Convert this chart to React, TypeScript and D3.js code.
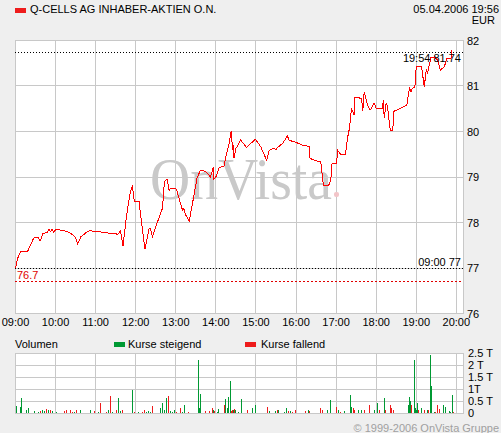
import React, { useEffect, useRef } from 'react';
import * as d3 from 'd3';

// price ticks (time, EUR)
const priceTimes = [
    "09:00", "09:03", "09:08", "09:18", "09:26", "09:28", "09:34", "09:37", "09:41", "09:48",
    "09:50", "09:52", "09:55", "09:57", "10:01", "10:08", "10:18", "10:26", "10:30", "10:33",
    "10:38", "10:46", "10:53", "10:56", "11:03", "11:23", "11:30", "11:33", "11:37", "11:41",
    "11:46", "11:52", "11:55", "11:58", "12:05", "12:10", "12:14", "12:20", "12:22", "12:25",
    "12:30", "12:40", "12:43", "12:47", "12:50", "12:52", "13:00", "13:02", "13:10", "13:12",
    "13:15", "13:20", "13:25", "13:32", "13:37", "13:45", "13:52", "13:56", "13:57", "14:00",
    "14:05", "14:12", "14:16", "14:20", "14:23", "14:25", "14:26", "14:27", "14:30", "14:32",
    "14:37", "14:46", "14:59", "15:07", "15:16", "15:20", "15:27", "15:30", "15:31", "15:40",
    "15:47", "15:50", "15:57", "16:10", "16:20", "16:21", "16:27", "16:37", "16:41", "16:49",
    "16:52", "16:54", "17:01", "17:02", "17:07", "17:14", "17:17", "17:20", "17:22", "17:23",
    "17:27", "17:28", "17:38", "17:40", "17:42", "17:47", "17:51", "17:57", "18:00", "18:09",
    "18:11", "18:12", "18:15", "18:17", "18:21", "18:25", "18:26", "18:46", "18:48", "18:50",
    "18:52", "18:54", "18:58", "19:00", "19:08", "19:12", "19:15", "19:17", "19:22", "19:27",
    "19:32", "19:36", "19:42", "19:46", "19:52", "19:53", "19:54"
];
const priceValues = [
    77.00, 77.21, 77.36, 77.36, 77.62, 77.67, 77.67, 77.60, 77.75, 77.79,
    77.86, 77.80, 77.85, 77.79, 77.85, 77.83, 77.80, 77.73, 77.66, 77.53,
    77.69, 77.78, 77.83, 77.80, 77.80, 77.76, 77.76, 77.73, 77.82, 77.48,
    78.13, 78.68, 78.79, 78.46, 78.46, 77.84, 77.41, 77.87, 77.87, 77.69,
    77.91, 78.31, 78.90, 78.95, 78.70, 78.75, 78.75, 78.68, 78.27, 78.30,
    78.16, 78.03, 78.42, 78.99, 79.15, 79.12, 79.00, 79.21, 78.95, 79.00,
    79.21, 79.23, 79.52, 79.74, 80.02, 79.59, 79.70, 79.41, 79.63, 79.67,
    79.81, 79.65, 79.83, 79.67, 79.37, 79.59, 79.63, 79.59, 79.63, 79.74,
    79.90, 79.80, 79.78, 79.70, 79.67, 79.41, 79.37, 79.33, 78.82, 78.82,
    78.93, 79.30, 79.30, 79.59, 79.50, 79.50, 79.85, 80.07, 80.36, 80.51,
    80.36, 80.75, 80.73, 80.46, 80.87, 80.58, 80.47, 80.62, 80.51, 80.51,
    80.69, 80.29, 80.63, 80.55, 80.03, 80.03, 80.44, 80.58, 80.80, 80.95,
    80.87, 80.95, 80.98, 81.42, 81.42, 80.98, 81.35, 81.29, 81.62, 81.64,
    81.57, 81.35, 81.42, 81.61, 81.61, 81.76, 81.74
];

// volume bars (time, T units as shown, direction u = steigend, d = fallend)
const volTimes = [
    "09:00", "09:06", "09:08", "09:16", "09:18", "09:27", "09:28", "09:33", "09:36", "09:40",
    "09:43", "09:46", "09:49", "09:51", "09:52", "09:55", "10:00", "10:13", "10:16", "10:22",
    "10:25", "10:28", "10:31", "10:37", "10:52", "10:58", "11:04", "11:06", "11:07", "11:16",
    "11:19", "11:22", "11:25", "11:30", "11:33", "11:36", "11:40", "11:54", "11:58", "12:04",
    "12:09", "12:12", "12:15", "12:19", "12:22", "12:24", "12:36", "12:37", "12:39", "12:40",
    "12:42", "12:43", "12:45", "12:46", "12:48", "12:49", "12:51", "12:54", "12:57", "12:58",
    "13:00", "13:06", "13:09", "13:12", "13:19", "13:33", "13:34", "13:36", "13:43", "13:49",
    "13:54", "13:55", "13:57", "14:01", "14:03", "14:12", "14:13", "14:16", "14:18", "14:21",
    "14:22", "14:24", "14:25", "14:27", "14:28", "14:33", "14:37", "14:46", "14:54", "14:58",
    "15:16", "15:19", "15:28", "15:31", "15:33", "15:42", "15:45", "15:48", "15:51", "15:54",
    "15:58", "16:13", "16:18", "16:19", "16:36", "16:39", "16:46", "16:51", "17:00", "17:03",
    "17:06", "17:12", "17:21", "17:22", "17:25", "17:27", "17:33", "17:37", "17:42", "17:49",
    "17:57", "18:01", "18:04", "18:12", "18:13", "18:21", "18:22", "18:25", "18:48", "18:49",
    "18:51", "18:52", "18:57", "18:58", "19:00", "19:01", "19:03", "19:07", "19:12", "19:16",
    "19:18", "19:21", "19:22", "19:27", "19:28", "19:31", "19:34", "19:40", "19:43", "19:49",
    "19:51", "19:54", "19:55"
];
const volValues = [
    0.31, 0.25, 0.62, 0.14, 0.21, 0.06, 0.10, 0.06, 0.10, 0.14,
    0.10, 0.17, 0.14, 0.07, 0.14, 0.10, 0.06, 0.10, 0.14, 0.14,
    0.06, 0.06, 0.14, 0.14, 0.14, 0.10, 0.06, 0.10, 0.44, 0.06,
    0.14, 0.72, 0.06, 0.14, 0.65, 0.10, 0.14, 0.97, 0.06, 0.06,
    0.06, 0.14, 0.06, 0.10, 0.06, 0.31, 0.21, 0.17, 0.44, 0.14,
    0.10, 0.14, 0.65, 0.39, 0.72, 0.10, 0.10, 0.06, 0.14, 0.14,
    0.06, 0.21, 0.06, 0.35, 0.06, 2.22, 0.21, 0.81, 0.10, 0.10,
    0.21, 0.14, 0.10, 0.06, 0.17, 0.35, 0.58, 0.21, 0.69, 1.35,
    0.10, 0.14, 0.14, 0.17, 0.14, 0.06, 0.58, 0.14, 0.21, 0.35,
    0.25, 0.10, 0.10, 0.14, 0.14, 0.07, 0.21, 0.10, 0.10, 0.07,
    0.14, 0.10, 0.14, 0.10, 0.21, 0.14, 0.14, 0.56, 0.28, 0.14,
    0.07, 0.10, 0.76, 0.28, 0.21, 0.14, 0.14, 0.14, 0.14, 0.35,
    0.14, 0.44, 0.14, 0.62, 0.14, 0.35, 0.21, 0.14, 0.35, 0.69,
    0.53, 0.35, 2.22, 0.21, 0.14, 0.42, 0.14, 0.21, 0.14, 0.14,
    0.14, 2.43, 1.14, 0.07, 0.07, 0.35, 0.17, 0.35, 0.25, 0.10,
    0.07, 0.76, 0.07
];
const volDirs = [
    "u", "u", "u", "u", "u", "u", "u", "u", "d", "u",
    "u", "d", "u", "d", "d", "u", "u", "d", "d", "d",
    "d", "u", "d", "u", "u", "d", "u", "d", "d", "d",
    "u", "d", "u", "d", "u", "u", "d", "u", "d", "u",
    "d", "d", "u", "u", "u", "d", "u", "u", "u", "u",
    "u", "u", "u", "u", "d", "d", "u", "u", "d", "u",
    "d", "d", "u", "u", "d", "u", "u", "u", "d", "d",
    "d", "u", "d", "u", "u", "d", "u", "u", "u", "u",
    "d", "d", "u", "d", "u", "u", "u", "d", "u", "u",
    "d", "u", "u", "d", "u", "u", "u", "d", "u", "d",
    "d", "d", "u", "d", "d", "d", "u", "u", "d", "u",
    "d", "u", "u", "u", "d", "d", "u", "u", "d", "d",
    "u", "u", "d", "u", "d", "d", "d", "d", "u", "u",
    "u", "d", "u", "u", "u", "u", "d", "u", "d", "u",
    "d", "u", "u", "u", "d", "d", "d", "u", "u", "u",
    "u", "u", "d"
];

const timeTicks = ["09:00", "10:00", "11:00", "12:00", "13:00", "14:00", "15:00", "16:00", "17:00", "18:00", "19:00", "20:00"];
const priceTicks = [76, 77, 78, 79, 80, 81, 82];
const volTicks = [0, 0.5, 1, 1.5, 2, 2.5];
const volTickLabels = ["0", "0.5 T", "1T", "1.5 T", "2 T", "2.5 T"];

const title = "Q-CELLS AG INHABER-AKTIEN O.N.";
const stamp = "05.04.2006 19:56";
const currency = "EUR";
const lastPrice = 81.74;
const lastTime = "19:54";
const openPrice = 77;
const prevClose = 76.7;

const toMin = (t: string) => {
    const [h, m] = t.split(":").map(Number);
    return (h - 9) * 60 + m;
};

const App: React.FC = () => {
    const svgRef = useRef<SVGSVGElement | null>(null);

    useEffect(() => {
        const svg = d3.select(svgRef.current);
        svg.selectAll("*").remove();

        const font = "'Liberation Sans', Arial, sans-serif";
        const left = 15, right = 463;
        const top = 40, bottom = 313;
        const vTop = 353, vBottom = 413;
        const grid = "#c8c8c8";

        const x = d3.scaleLinear().domain([0, 670]).range([left + 0.5, right]);
        const y = d3.scaleLinear().domain([76, 82]).range([bottom + 0.5, top + 0.5]);
        const yv = d3.scaleLinear().domain([0, 2.5]).range([vBottom + 0.3, vTop + 0.3]);
        const px = (v: number) => Math.round(v - 0.5) + 0.5;

        svg.append("rect").attr("width", 501).attr("height", 433).attr("fill", "#efefef");

        // header
        svg.append("rect").attr("x", 15).attr("y", 8).attr("width", 11).attr("height", 5).attr("fill", "#ee1c1c");
        svg.append("text").attr("x", 30).attr("y", 13).text(title);
        svg.append("text").attr("x", 499).attr("y", 12.5).attr("text-anchor", "end").text(stamp);
        svg.append("text").attr("x", 495).attr("y", 24).attr("text-anchor", "end").text(currency);

        // main plot frame
        svg.append("rect").attr("x", left + 0.5).attr("y", top + 0.5)
            .attr("width", right - left).attr("height", bottom - top)
            .attr("fill", "#fff").attr("stroke", grid);

        const gridG = svg.append("g").attr("stroke", grid).attr("shape-rendering", "crispEdges");
        timeTicks.forEach(t => {
            const xx = px(x(toMin(t)));
            gridG.append("line").attr("x1", xx).attr("x2", xx).attr("y1", top).attr("y2", bottom + 1);
        });
        priceTicks.forEach(p => {
            const yy = px(y(p));
            gridG.append("line").attr("x1", left).attr("x2", right + 1).attr("y1", yy).attr("y2", yy);
        });

        // watermark
        svg.append("text").attr("x", 150).attr("y", 199)
            .attr("font-family", "'Liberation Serif', 'Times New Roman', serif")
            .attr("font-size", 60).attr("fill", "#c9c9c9")
            .attr("textLength", 182).attr("lengthAdjust", "spacingAndGlyphs")
            .text("OnVista");
        svg.append("rect").attr("x", 334).attr("y", 192).attr("width", 5).attr("height", 5)
            .attr("rx", 2).attr("fill", "#f2c4c8");

        // reference lines
        svg.append("line").attr("x1", left).attr("x2", right).attr("y1", px(y(lastPrice))).attr("y2", px(y(lastPrice)))
            .attr("stroke", "#000").attr("stroke-dasharray", "1 2").attr("shape-rendering", "crispEdges");
        svg.append("line").attr("x1", left).attr("x2", right).attr("y1", px(y(openPrice))).attr("y2", px(y(openPrice)))
            .attr("stroke", "#000").attr("stroke-dasharray", "1 2").attr("shape-rendering", "crispEdges");
        svg.append("line").attr("x1", left).attr("x2", right).attr("y1", px(y(prevClose))).attr("y2", px(y(prevClose)))
            .attr("stroke", "#e00000").attr("stroke-dasharray", "2 2").attr("shape-rendering", "crispEdges");

        // price line
        const pts: [number, number][] = priceTimes.map((t, i) => [x(toMin(t)), y(priceValues[i])]);
        svg.append("path").attr("d", d3.line()(pts)!)
            .attr("fill", "none").attr("stroke", "#ff0000").attr("stroke-width", 1)
            .attr("shape-rendering", "crispEdges");

        // labels in plot
        svg.append("text").attr("x", 461).attr("y", 62).attr("text-anchor", "end").attr("fill", "#000")
            .text(`${lastTime} ${lastPrice.toFixed(2)}`);
        svg.append("text").attr("x", 461).attr("y", 266).attr("text-anchor", "end")
            .text(`09:00 ${openPrice}`);
        svg.append("text").attr("x", 17).attr("y", 279).attr("fill", "#e00000").text(`${prevClose}`);

        // axes labels
        priceTicks.forEach(p => {
            svg.append("text").attr("x", 467).attr("y", y(p) + 4).text(`${p}`);
        });
        timeTicks.forEach(t => {
            svg.append("text").attr("x", x(toMin(t))).attr("y", 326).attr("text-anchor", "middle").text(t);
        });

        // volume legend
        svg.append("text").attr("x", 15).attr("y", 348).text("Volumen");
        svg.append("rect").attr("x", 114).attr("y", 342).attr("width", 11).attr("height", 5).attr("fill", "#009933");
        svg.append("text").attr("x", 128).attr("y", 348).text("Kurse steigend");
        svg.append("rect").attr("x", 245).attr("y", 342).attr("width", 11).attr("height", 5).attr("fill", "#ee1c1c");
        svg.append("text").attr("x", 261).attr("y", 348).text("Kurse fallend");

        // volume panel
        svg.append("rect").attr("x", left + 0.5).attr("y", vTop + 0.5)
            .attr("width", right - left).attr("height", vBottom - vTop)
            .attr("fill", "#fff").attr("stroke", grid);
        const vg = svg.append("g").attr("stroke", grid).attr("shape-rendering", "crispEdges");
        timeTicks.forEach(t => {
            const xx = px(x(toMin(t)));
            vg.append("line").attr("x1", xx).attr("x2", xx).attr("y1", vTop).attr("y2", vBottom + 1);
        });
        volTicks.forEach(v => {
            const yy = px(yv(v));
            vg.append("line").attr("x1", left).attr("x2", right + 1).attr("y1", yy).attr("y2", yy);
        });

        svg.append("g").attr("shape-rendering", "crispEdges")
            .selectAll("rect")
            .data(volTimes.map((t, i) => ({ t, v: volValues[i], d: volDirs[i] })))
            .enter()
            .append("rect")
            .attr("x", d => Math.round(x(toMin(d.t))))
            .attr("y", d => yv(d.v))
            .attr("width", 1)
            .attr("height", d => vBottom + 0.3 - yv(d.v))
            .attr("fill", d => d.d === "u" ? "#009933" : "#ee1c1c");

        volTicks.forEach((v, i) => {
            svg.append("text").attr("x", 468).attr("y", yv(v) + 4).text(volTickLabels[i]);
        });

        svg.append("text").attr("x", 499).attr("y", 432).attr("text-anchor", "end")
            .attr("fill", "#a0a0a0").text("\u00a9 1999-2006 OnVista Gruppe");

        svg.selectAll("text").attr("font-family", function () {
            return d3.select(this).attr("font-family") || font;
        }).attr("font-size", function () {
            return d3.select(this).attr("font-size") || 11;
        });
    }, []);

    return <svg ref={svgRef} width={501} height={433} style={{ position: 'absolute', left: 0, top: 0 }}></svg>;
};

export default App;
